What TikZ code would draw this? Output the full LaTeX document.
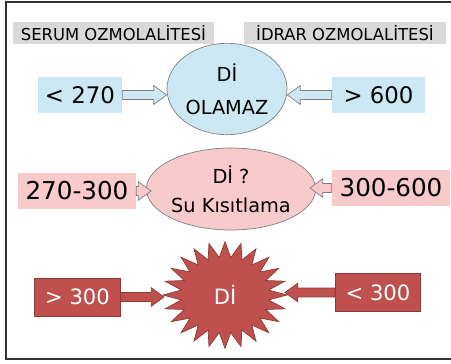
\documentclass[tikz,border=0pt]{standalone}
\usepackage{fontspec}
\setmainfont{DejaVu Sans}
\usepackage{xcolor}
\usetikzlibrary{calc, shapes.geometric}

\definecolor{hdrgray}{HTML}{D9D9D9}
\definecolor{lowblue}{HTML}{CCE8F5}
\definecolor{midpink}{HTML}{F8CACA}
\definecolor{diared}{HTML}{C0504D}
\definecolor{diaredline}{HTML}{8C3A37}
\definecolor{edgegray}{HTML}{7F7F7F}

% block arrow: style, start point, end point (tip taken at the start's height)
\newcommand{\blockarrow}[3]{%
  \draw[#1] let \p1=(#2), \p2=(#3), \n1={sign(\x2-\x1)} in
    (\x1,\y1+3.8pt) -- (\x2-\n1*11pt,\y1+3.8pt) -- (\x2-\n1*11pt,\y1+8pt)
    -- (\x2,\y1) -- (\x2-\n1*11pt,\y1-8pt) -- (\x2-\n1*11pt,\y1-3.8pt)
    -- (\x1,\y1-3.8pt) -- cycle;}

\begin{document}
\begin{tikzpicture}[x=0.03cm, y=-0.03cm,
  hdr/.style={fill=hdrgray, minimum width=6.05cm, minimum height=0.66cm, inner sep=0pt, font=\fontsize{14}{16}\selectfont},
  bluebox/.style={fill=lowblue, minimum height=1.08cm, inner sep=0pt, font=\fontsize{19.5}{22}\selectfont},
  pinkbox/.style={fill=midpink, minimum width=3.54cm, minimum height=1.08cm, inner sep=0pt, font=\fontsize{21}{24}\selectfont},
  redbox/.style={fill=diared, draw=diaredline, line width=0.6pt, minimum width=2.56cm, minimum height=1.14cm, inner sep=0pt, text=white, font=\fontsize{18}{21}\selectfont},
  blueell/.style={ellipse, fill=lowblue, draw=edgegray, line width=0.6pt, minimum width=3.6cm, minimum height=2.74cm, inner sep=0pt, align=center, font=\fontsize{16.5}{28}\selectfont},
  pinkell/.style={ellipse, fill=midpink, draw=edgegray, line width=0.6pt, minimum width=4.44cm, minimum height=2.46cm, inner sep=0pt, align=center, font=\fontsize{16.5}{25}\selectfont},
  burst/.style={fill=diared, draw=diaredline, line width=0.6pt},
  burstlabel/.style={text=white, font=\fontsize{18}{20}\selectfont},
  hollowarrow/.style={draw=edgegray, line width=0.6pt, fill=#1},
  solidarrow/.style={fill=diared, draw=diaredline, line width=0.6pt}]

  \useasboundingbox (0,0) rectangle (451,363);
  \draw[line width=1.2pt, black!80] (451,2) -- (6,2) -- (6,359) -- (451,359);

  % headers
  \node[hdr] (serum) at (113.5,33) {SERUM OZMOLALİTESİ};
  \node[hdr] (idrar) at (345,33) {İDRAR OZMOLALİTESİ};

  % row 1
  \node[bluebox, minimum width=2.52cm] (lowserum) at (80,95) {< 270};
  \node[bluebox, minimum width=2.79cm] (highurine) at (378.5,95) {> 600};
  \node[blueell] (notdi) at (227,89) {Dİ\\OLAMAZ};
  \blockarrow{hollowarrow=lowblue}{lowserum.east}{notdi.west}
  \blockarrow{hollowarrow=lowblue}{highurine.west}{notdi.east}

  % row 2
  \node[pinkbox] (midserum) at (77,191) {270-300};
  \node[pinkbox] (midurine) at (391,188) {300-600};
  \node[pinkell] (maybedi) at (231,189) {Dİ ?\\Su Kısıtlama};
  \blockarrow{hollowarrow=midpink}{midserum.east}{$(maybedi.west)+(5,0)$}
  \blockarrow{hollowarrow=midpink}{midurine.west}{$(maybedi.east)+(-6,0)$}

  % row 3
  \node[redbox] (highserum) at (77.5,297) {> 300};
  \node[redbox] (lowurine) at (378,292.5) {< 300};
  \coordinate (burstc) at (225,295);
  \draw[burst] plot[samples at={0,...,47}, variable=\k]
    ({225+(44+18*(1-mod(\k,2)))*cos(7.5*\k)}, {295+0.86*(44+18*(1-mod(\k,2)))*sin(7.5*\k)}) -- cycle;
  \node[burstlabel] (di) at (burstc) {Dİ};
  \coordinate (burstw) at ($(burstc)+(-61,0)$);
  \coordinate (burste) at ($(burstc)+(60,0)$);
  \blockarrow{solidarrow}{highserum.east}{burstw}
  \blockarrow{solidarrow}{lowurine.west}{burste}
\end{tikzpicture}
\end{document}
